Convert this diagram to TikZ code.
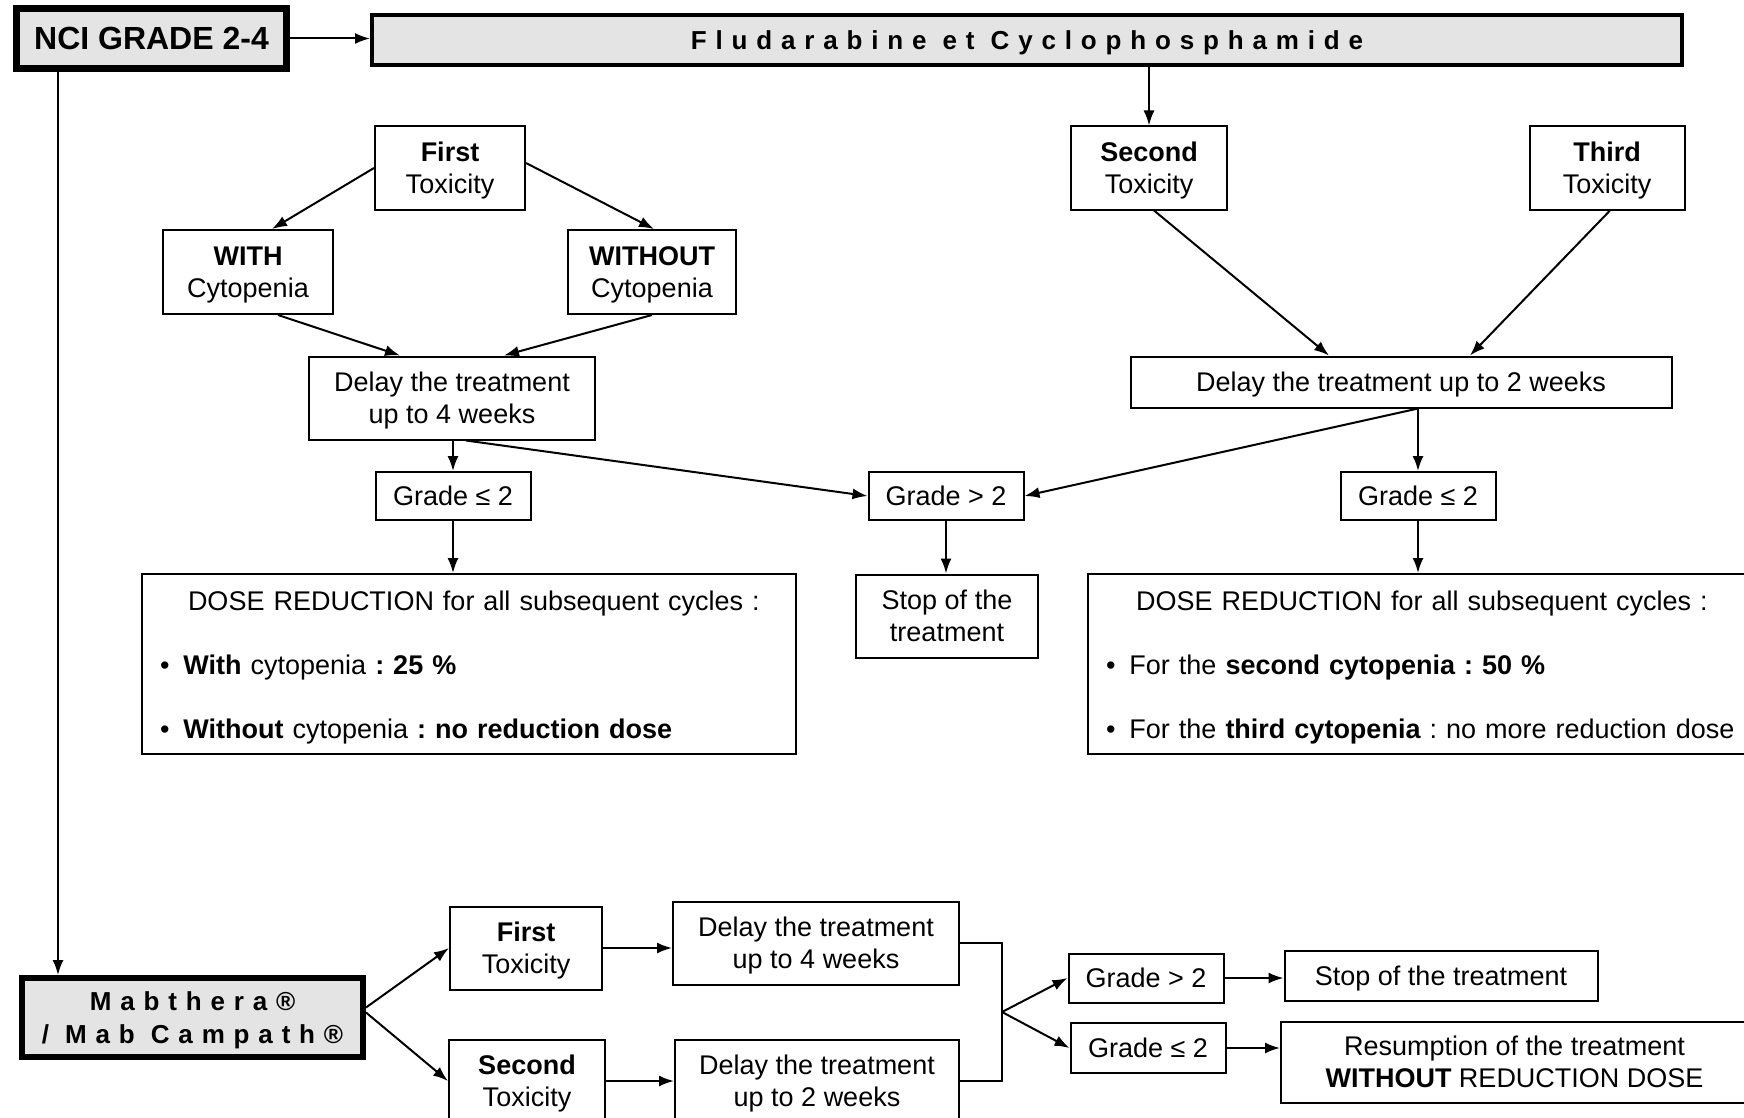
\documentclass[tikz,border=0pt]{standalone}
\usepackage{fontspec}
\setmainfont{Liberation Sans}
\newfontfamily\policeespacee[LetterSpace=34]{Liberation Sans}
\usetikzlibrary{arrows.meta}
\definecolor{grisclair}{RGB}{228,228,228}
\frenchspacing
\begin{document}
\begin{tikzpicture}[x=1pt,y=-1pt]
	% Styles
	\tikzstyle{fleche}=[-{Latex[length=15pt,width=11pt]},line width=2pt]
	\tikzstyle{trait}=[-,line width=2pt]
	\tikzstyle{boite}=[draw,line width=2pt,align=center,inner sep=0pt,text depth=0pt,font=\fontsize{27}{32}\selectfont]
	\tikzstyle{cadre}=[boite,fill=grisclair,line width=6pt]
	\tikzstyle{toxicite}=[boite,minimum width=152pt,minimum height=83pt]
	\tikzstyle{grade}=[boite,minimum width=155pt,minimum height=48pt]
	\tikzstyle{delai}=[boite,minimum width=286pt,minimum height=83pt]
	\tikzstyle{liste}=[boite,align=left,text depth={},minimum height=180pt]
	% Macros
	\def\Puce{\hspace*{8pt}\textbullet\hspace{14pt}}
	\def\Ecart{32pt}
	\def\Hausse{\rule{0pt}{26pt}}
	% Cadre de l'image
	\useasboundingbox (0,0) rectangle (1744,1118);
	\fill[white] (0,0) rectangle (1744,1118);
	% Noeuds du haut
	\node[cadre,line width=7pt,minimum width=270pt,minimum height=60pt,font=\bfseries\fontsize{32}{36}\selectfont] (NCI) at (151.5,38.5) {NCI GRADE 2-4};
	\node[cadre,line width=4pt,minimum width=1310pt,minimum height=50pt,font=\policeespacee\bfseries\fontsize{26}{30}\selectfont] (Fluda) at (1027,40) {Fludarabine et Cyclophosphamide};
	\node[toxicite,minimum width=150pt] (Tox1) at (450,168) {\textbf{First}\\Toxicity};
	\node[toxicite,minimum width=156pt] (Tox2) at (1149,168) {\textbf{Second}\\Toxicity};
	\node[toxicite,minimum width=155pt] (Tox3) at (1607,168) {\textbf{Third}\\Toxicity};
	\node[toxicite,minimum width=170pt,minimum height=84pt] (Avec) at (248,272) {\textbf{WITH}\\Cytopenia};
	\node[toxicite,minimum width=168pt,minimum height=84pt] (Sans) at (652,272) {\textbf{WITHOUT}\\Cytopenia};
	\node[delai] (Delai4) at (452,398) {Delay the treatment\\up to 4 weeks};
	\node[delai,minimum width=541pt,minimum height=51pt] (Delai2) at (1401,382) {Delay the treatment up to 2 weeks};
	\node[grade] (GradeA) at (453,496) {Grade ≤ 2};
	\node[grade] (GradeB) at (946,496) {Grade > 2};
	\node[grade] (GradeC) at (1418,496) {Grade ≤ 2};
	\node[liste,minimum width=654pt,text width=634pt] (DoseA) at (469,664) {\Hausse\hspace*{36pt}DOSE REDUCTION for all subsequent cycles :\\[\Ecart]\Puce\textbf{With} cytopenia \textbf{: 25 \%}\\[\Ecart]\Puce\textbf{Without} cytopenia \textbf{: no reduction dose}};
	\node[delai,minimum width=182pt] (StopA) at (947,616) {Stop of the\\treatment};
	\node[liste,minimum width=690pt,text width=670pt] (DoseC) at (1433,664) {\Hausse\hspace*{38pt}DOSE REDUCTION for all subsequent cycles :\\[\Ecart]\Puce For the \textbf{second cytopenia : 50 \%}\\[\Ecart]\Puce For the \textbf{third cytopenia} : no more reduction dose};
	% Noeuds du bas
	\node[cadre,minimum width=341pt,minimum height=79pt,font=\policeespacee\bfseries\fontsize{26}{33}\selectfont] (Mab) at (192.5,1017.5) {Mabthera®\\/ Mab Campath®};
	\node[toxicite] (ToxB1) at (526,948) {\textbf{First}\\Toxicity};
	\node[toxicite,minimum width=156pt] (ToxB2) at (527,1081) {\textbf{Second}\\Toxicity};
	\node[delai] (DelaiB4) at (816,943) {Delay the treatment\\up to 4 weeks};
	\node[delai,minimum width=284pt] (DelaiB2) at (817,1081) {Delay the treatment\\up to 2 weeks};
	\node[grade,minimum height=49pt] (GradeB1) at (1146,978) {Grade > 2};
	\node[grade,minimum height=50pt] (GradeB2) at (1148,1048) {Grade ≤ 2};
	\node[grade,minimum width=313pt,minimum height=50pt] (StopB) at (1441,976) {Stop of the treatment};
	\node[delai,minimum width=467pt,minimum height=81pt] (Reprise) at (1514.5,1062) {Resumption of the treatment\\\textbf{WITHOUT} REDUCTION DOSE};
	\coordinate (Depart) at ([xshift=45pt]NCI.south west);
	\coordinate (Jonction) at (1002,1012);
	% Arcs du haut
	\draw[fleche] (NCI.east) -- (NCI.east -| Fluda.west);
	\draw[fleche] (Depart) -- (Depart |- Mab.north);
	\draw[fleche] (Tox2.north |- Fluda.south) -- (Tox2.north);
	\draw[fleche] (Tox1.west) -- ([xshift=24pt]Avec.north);
	\draw[fleche] ([yshift=5pt]Tox1.east) -- ([xshift=2pt]Sans.north);
	\draw[fleche] ([xshift=30pt]Avec.south) -- ([xshift=-52pt]Delai4.north);
	\draw[fleche] (Sans.south) -- ([xshift=52pt]Delai4.north);
	\draw[fleche] ([xshift=5pt]Tox2.south) -- ([xshift=-72pt]Delai2.north);
	\draw[fleche] ([xshift=3pt]Tox3.south) -- ([xshift=69pt]Delai2.north);
	\draw[fleche] (GradeA.north |- Delai4.south) -- (GradeA.north);
	\draw[fleche] ([xshift=14pt]Delai4.south) -- (GradeB.west);
	\draw[fleche] (GradeC.north |- Delai2.south) -- (GradeB.east);
	\draw[fleche] (GradeC.north |- Delai2.south) -- (GradeC.north);
	\draw[fleche] (GradeA.south) -- (GradeA.south |- DoseA.north);
	\draw[fleche] (GradeB.south) -- (GradeB.south |- StopA.north);
	\draw[fleche] (GradeC.south) -- (GradeC.south |- DoseC.north);
	% Arcs du bas
	\draw[fleche] ([yshift=10pt]Mab.east) -- (ToxB1.west);
	\draw[fleche] ([yshift=5pt]Mab.east) -- (ToxB2.west);
	\draw[fleche] (ToxB1.east) -- (ToxB1.east -| DelaiB4.west);
	\draw[fleche] (ToxB2.east) -- (ToxB2.east -| DelaiB2.west);
	\draw[trait] (DelaiB4.east) -| (Jonction) |- (DelaiB2.east);
	\draw[fleche] (Jonction) -- (GradeB1.west);
	\draw[fleche] (Jonction) -- (GradeB2.west);
	\draw[fleche] (GradeB1.east) -- (GradeB1.east -| StopB.west);
	\draw[fleche] (GradeB2.east) -- (GradeB2.east -| Reprise.west);
\end{tikzpicture}
\end{document}
